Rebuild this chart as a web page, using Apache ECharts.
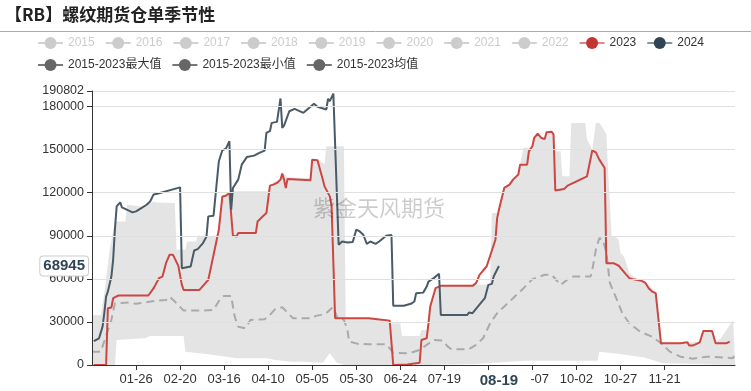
<!DOCTYPE html>
<html>
<head>
<meta charset="utf-8">
<script src="https://cdn.jsdelivr.net/npm/echarts@6/dist/echarts.min.js"></script>
<style>html,body{margin:0;padding:0;background:#fff}#c{width:751px;height:391px}</style>
</head>
<body>
<div id="c"></div>
<script>
// ---- data ----
const titleText = '【RB】螺纹期货仓单季节性';
const watermark = '紫金天风期货';
const hiddenYears = ['2015','2016','2017','2018','2019','2020','2021','2022'];
const maxName = '2015-2023最大值';
const minName = '2015-2023最小值';
const meanName = '2015-2023均值';
const yMax = 190802;
const yInterval = 30000;
const pointerDate = '08-19';
const pointerValue = 68945;

const s2024 = [
 ['01-02',16700],['01-05',18600],['01-07',26700],['01-08',36300],['01-09',47600],['01-10',51100],
 ['01-12',61600],['01-13',73300],['01-14',94200],['01-15',110400],['01-17',113200],['01-18',109700],
 ['01-24',106300],['01-26',107000],['01-29',109300],['02-01',111600],['02-03',113900],['02-05',118800],
 ['02-07',119300],['02-20',123700],['02-21',67400],['02-26',68600],['02-28',79700],['03-01',80700],
 ['03-04',84900],['03-06',89500],['03-07',103500],['03-10',104000],['03-13',141900],['03-15',149500],
 ['03-17',150700],['03-19',155800],['03-20',108100],['03-21',123300],['03-24',129100],['03-26',139500],
 ['03-29',144900],['04-02',145800],['04-05',147700],['04-08',149300],['04-09',161600],['04-11',162800],
 ['04-12',168600],['04-15',169300],['04-17',185600],['04-18',165100],['04-19',166700],['04-22',176700],
 ['04-25',178400],['04-30',175600],['05-06',181900],['05-08',179800],['05-13',177900],['05-14',185400],
 ['05-15',183700],['05-17',189000],['05-20',83700],['05-22',86000],['05-25',85300],['05-28',85600],
 ['05-30',94200],['06-01',93000],['06-03',90700],['06-05',84400],['06-07',86000],['06-10',84400],
 ['06-12',86000],['06-16',90000],['06-19',90500],['06-20',41200],['06-26',41200],['06-30',42600],
 ['07-02',44200],['07-03',50000],['07-07',50400],['07-09',54600],['07-10',58100],['07-13',60500],
 ['07-16',63500],['07-17',34900],['08-01',34900],['08-02',36500],['08-04',36100],['08-07',40700],
 ['08-11',46500],['08-13',55800],['08-15',56500],['08-16',61600],['08-19',68945]
];

const s2023 = [
 ['01-02',0],['01-09',0],['01-10',39500],['01-12',40000],['01-13',46500],['01-16',48400],
 ['02-02',48400],['02-05',53500],['02-06',55800],['02-08',60500],['02-10',61600],['02-12',70900],
 ['02-14',76700],['02-16',76700],['02-19',69000],['02-21',55800],['02-22',52300],['03-02',52300],
 ['03-07',59300],['03-09',70900],['03-11',82500],['03-13',94200],['03-15',117400],['03-17',117900],
 ['03-19',119800],['03-20',120200],['03-21',90000],['03-23',89500],['03-24',91900],['04-03',91900],
 ['04-04',100000],['04-06',102300],['04-09',105800],['04-11',124900],['04-13',125600],['04-15',126800],
 ['04-17',129100],['04-18',133300],['04-19',129100],['04-20',123300],['04-21',129600],['05-04',128600],
 ['05-05',143000],['05-08',142600],['05-11',129100],['05-12',124400],['05-15',117400],['05-16',110900],
 ['05-18',32600],['06-06',32600],['06-11',31900],['06-18',30900],['06-20',0],['06-28',400],
 ['06-29',1200],['07-05',1600],['07-06',17400],['07-09',18600],['07-10',29100],['07-11',40700],
 ['07-14',53500],['07-17',55100],['08-04',55100],['08-06',57000],['08-08',62800],['08-10',65800],
 ['08-12',68600],['08-14',76000],['08-15',79700],['08-17',87200],['08-18',102300],['08-19',108100],
 ['08-22',123300],['08-25',125600],['08-27',129100],['08-30',132600],['08-31',139500],['09-04',139500],
 ['09-05',148800],['09-07',152300],['09-08',158100],['09-10',161200],['09-12',158100],['09-14',157400],
 ['09-15',162100],['09-18',162400],['09-19',160500],['09-20',121500],['09-25',122600],['09-27',124900],
 ['10-08',131400],['10-11',149500],['10-13',148100],['10-15',143000],['10-18',137200],['10-19',70900],
 ['10-23',70900],['10-26',69100],['10-30',63300],['11-01',60500],['11-03',59800],['11-05',59300],
 ['11-08',58600],['11-10',57400],['11-12',53500],['11-14',51100],['11-16',50000],['11-19',15100],
 ['11-30',15100],['12-01',15800],['12-04',15800],['12-05',13500],['12-07',13500],['12-11',15800],
 ['12-12',16300],['12-13',23700],['12-18',23700],['12-20',15100],['12-26',15100],['12-28',16300]
];

const sMean = [
 ['01-01',9300],['01-06',9300],['01-12',31400],['01-14',43000],['01-15',44200],['01-22',43500],
 ['01-26',42600],['01-31',43500],['02-07',44900],['02-12',45300],['02-14',47600],['02-17',44200],
 ['02-22',37900],['03-03',37900],['03-10',38400],['03-14',46500],['03-16',48100],['03-20',48100],
 ['03-22',33700],['03-24',26700],['03-28',25600],['03-31',31400],['04-08',31900],['04-11',34900],
 ['04-14',38900],['04-18',40200],['04-21',36500],['04-24',32600],['05-05',32600],['05-07',34200],
 ['05-10',34900],['05-13',36100],['05-17',40700],['05-19',33700],['05-23',31400],['05-25',24400],
 ['05-26',16300],['05-31',14700],['06-06',14400],['06-16',14400],['06-20',8600],['06-29',8100],
 ['07-05',10500],['07-09',14000],['07-13',17400],['07-18',17000],['07-21',12800],['07-23',11000],
 ['08-02',11000],['08-06',14000],['08-10',18600],['08-14',29100],['08-18',36100],['08-22',40700],
 ['08-27',46500],['09-02',53500],['09-07',59800],['09-14',62800],['09-18',62800],['09-23',55800],
 ['09-24',55100],['09-28',60500],['09-30',61600],['10-10',61600],['10-11',66300],['10-13',80200],
 ['10-15',88400],['10-17',87200],['10-19',77900],['10-21',57000],['10-25',45300],['10-28',36100],
 ['11-01',29100],['11-07',23300],['11-14',19700],['11-19',15100],['11-24',9300],['11-30',5800],
 ['12-07',4400],['12-15',5800],['12-22',5400],['12-30',4700],['12-31',9300]
];

const sMax = [
 ['01-01',34900],['01-06',34900],['01-08',50000],['01-11',80000],['01-14',100000],['01-20',100000],
 ['01-21',111600],['01-26',110900],['01-30',110000],['02-05',113900],['02-07',113200],['02-17',112800],
 ['02-18',80200],['02-23',80200],['02-24',86000],['02-29',86000],['03-01',90000],['03-12',90000],
 ['03-13',95000],['03-15',118000],['03-20',121000],['04-10',121000],['04-11',125500],['04-17',130000],
 ['04-18',134000],['04-21',130500],['05-04',130000],['05-05',143500],['05-08',143000],['05-12',140000],
 ['05-13',152300],['05-23',152300],['05-24',33000],['06-18',31500],['06-19',29100],['06-24',29100],
 ['06-25',20200],['07-05',20200],['07-06',24400],['07-09',24400],['07-10',29500],['07-11',41000],
 ['07-14',54000],['07-17',55500],['08-14',56000],['08-15',105800],['08-18',105800],['08-19',108500],
 ['08-22',124000],['08-25',126000],['08-27',129500],['08-30',133000],['08-31',140000],['09-01',140000],
 ['09-02',151200],['09-06',151200],['09-07',152800],['09-08',158500],['09-10',161600],['09-12',158500],
 ['09-14',158000],['09-15',162500],['09-18',162800],['09-19',161000],['09-20',148800],['09-23',148800],
 ['09-24',131400],['09-28',131400],['09-29',168600],['10-07',168600],['10-08',157000],['10-11',150000],
 ['10-12',150000],['10-13',168600],['10-15',168600],['10-17',165100],['10-19',160500],['10-20',133700],
 ['10-22',89500],['10-24',89500],['10-26',87200],['10-27',77900],['10-29',75600],['11-01',64000],
 ['11-05',60000],['11-10',58000],['11-16',51000],['11-17',50000],['11-19',15500],['11-30',15500],
 ['12-01',16200],['12-11',16200],['12-13',24000],['12-18',24000],['12-20',16000],['12-23',18600],
 ['12-30',31400],['12-31',31400]
];

const sMin = [
 ['01-01',0],['01-14',0],['01-15',17400],['01-31',18600],['02-03',20200],['02-22',20200],
 ['02-23',9300],['03-06',7700],['03-07',8600],['03-17',5800],['03-23',4700],['04-09',4700],
 ['04-14',3500],['04-23',2300],['04-30',2300],['05-11',1600],['05-15',8100],['05-19',1600],
 ['05-23',0],['07-10',0],['07-11',700],['08-06',700],['09-02',3000],['10-14',3000],
 ['10-15',9300],['10-23',8100],['11-09',5400],['11-20',1200],['11-21',0],['12-31',0]
];

// ---- category axis: every day MM-DD (leap year) ----
const monthDays = [31,29,31,30,31,30,31,31,30,31,30,31];
const categories = [];
monthDays.forEach((n, m) => {
  for (let d = 1; d <= n; d++) {
    categories.push(String(m + 1).padStart(2, '0') + '-' + String(d).padStart(2, '0'));
  }
});
const labelEvery = 25;
const lastLabelIndex = categories.indexOf('11-21');
const showLabel = (i) => i > 0 && i % labelEvery === 0 && i <= lastLabelIndex;

const FONT = '"Liberation Sans", "Noto Sans CJK SC", sans-serif';

const chart = echarts.init(document.getElementById('c'), null, {renderer: 'canvas'});

const hiddenSeries = hiddenYears.map(n => ({name: n, type: 'line', data: [], symbol: 'circle', itemStyle: {color: '#ccc'}}));
const selected = {};
hiddenYears.forEach(n => selected[n] = false);

const legendRow1 = hiddenYears.map(n => ({name: n}))
  .concat([
    {name: '2023', lineStyle: {color: '#e08a88', width: 2}},
    {name: '2024', lineStyle: {color: '#87939c', width: 2}}
  ]);
const legendRow2 = [
    {name: maxName, itemStyle: {color: '#666'}, lineStyle: {color: '#777', width: 2, opacity: 1}},
    {name: minName, itemStyle: {color: '#666'}, lineStyle: {color: '#777', width: 2, opacity: 1}},
    {name: meanName, itemStyle: {color: '#666'}, lineStyle: {color: '#777', width: 2, opacity: 1, type: 'solid'}}
];
const legendCommon = {
  itemWidth: 25, itemHeight: 15, itemGap: 10,
  inactiveColor: '#ccc',
  textStyle: {fontSize: 12, color: '#333', fontFamily: FONT}
};

const option = {
  animation: false,
  textStyle: {fontFamily: FONT},
  title: {
    text: titleText, left: 0, top: 1,
    textStyle: {fontSize: 17, fontWeight: 'bold', color: '#222', fontFamily: '"Noto Sans CJK SC", sans-serif'}
  },
  legend: [
    Object.assign({data: legendRow1, selected: selected, left: 32, top: 32}, legendCommon),
    Object.assign({data: legendRow2, left: 32, top: 54}, legendCommon)
  ],
  graphic: [
    {type: 'line', shape: {x1: 0, y1: 31.5, x2: 751, y2: 31.5}, style: {stroke: '#aaa', lineWidth: 1}, silent: true},
    {type: 'text', x: 379, y: 208, z: 50, silent: true,
     style: {text: watermark, align: 'center', verticalAlign: 'middle', fontSize: 22,
             fontFamily: '"Noto Sans CJK SC", sans-serif', fill: 'rgba(0,0,0,0.2)'}}
  ],
  grid: {left: 92, right: 16, top: 91, bottom: 26},
  xAxis: {
    type: 'category', data: categories, boundaryGap: false, z: 10,
    axisLine: {lineStyle: {color: '#333'}},
    axisTick: {interval: showLabel, length: 5, lineStyle: {color: '#333'}},
    axisLabel: {interval: showLabel, color: '#333', fontSize: 13, margin: 8},
    splitLine: {show: false},
    axisPointer: {
      show: true, status: 'show', value: categories.indexOf(pointerDate), snap: false,
      type: 'line', lineStyle: {color: 'rgba(0,0,0,0)'}, triggerTooltip: false,
      label: {show: true, backgroundColor: '#fff', color: '#2f4554', fontWeight: 'bold', fontSize: 15,
              padding: [3, 13], margin: 5, fontFamily: FONT, borderWidth: 0, shadowBlur: 0}
    }
  },
  yAxis: {
    type: 'value', min: 0, max: yMax, interval: yInterval, z: 10,
    axisLine: {show: true, lineStyle: {color: '#333'}},
    axisTick: {show: true, length: 5, lineStyle: {color: '#333'}},
    axisLabel: {color: '#333', fontSize: 12.5, margin: 8, formatter: v => String(v)},
    splitLine: {lineStyle: {color: '#e0e0e0'}},
    axisPointer: {
      show: true, status: 'show', value: pointerValue, snap: false,
      type: 'line', lineStyle: {color: 'rgba(0,0,0,0)'}, triggerTooltip: false,
      label: {show: true, backgroundColor: '#fff', color: '#2f4554', fontWeight: 'bold', fontSize: 15,
              padding: [2, 3], margin: 4, borderColor: '#ccc', borderWidth: 1, fontFamily: FONT,
              formatter: p => String(pointerValue), shadowBlur: 0}
    }
  },
  series: hiddenSeries.concat([
    {name: maxName, type: 'line', data: sMax, symbol: 'circle', showSymbol: false, silent: true,
     itemStyle: {color: '#666'}, lineStyle: {width: 0, opacity: 0},
     areaStyle: {color: 'rgba(190,190,190,0.42)', opacity: 1}},
    {name: minName, type: 'line', data: sMin, symbol: 'circle', showSymbol: false, silent: true,
     itemStyle: {color: '#666'}, lineStyle: {width: 0, opacity: 0},
     areaStyle: {color: '#fff', opacity: 1}},
    {name: meanName, type: 'line', data: sMean, symbol: 'circle', showSymbol: false, silent: true,
     itemStyle: {color: '#666'}, lineStyle: {color: '#aaa', width: 2, type: [8, 5]}},
    {name: '2023', type: 'line', data: s2023, symbol: 'circle', showSymbol: false, silent: true,
     itemStyle: {color: '#c23531'}, lineStyle: {color: '#cc4642', width: 2}},
    {name: '2024', type: 'line', data: s2024, symbol: 'circle', showSymbol: false, silent: true,
     itemStyle: {color: '#2f4554'}, lineStyle: {color: '#4a5a67', width: 2}}
  ])
};
chart.setOption(option);
</script>
</body>
</html>
